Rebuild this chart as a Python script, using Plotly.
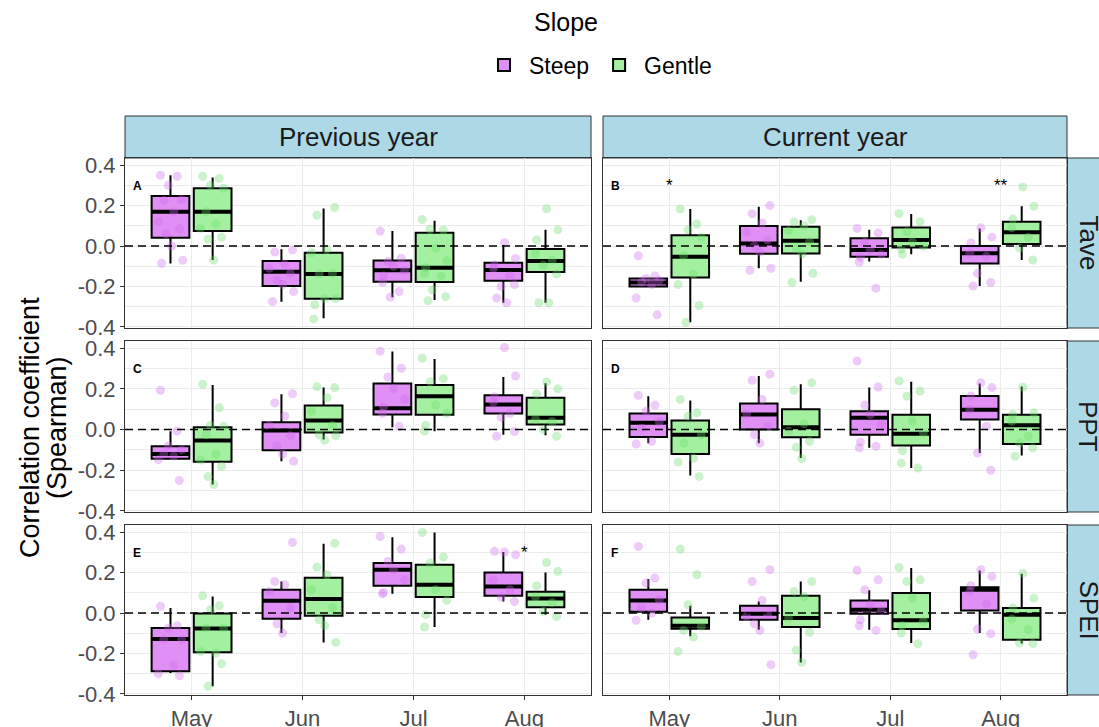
import plotly.graph_objects as go

# ---------------------------------------------------------------------------
# Categories
# ---------------------------------------------------------------------------
MONTHS = ["May", "Jun", "Jul", "Aug"]
SLOPES = ["Steep", "Gentle"]
PERIODS = ["Previous year", "Current year"]
VARIABLES = ["Tave", "PPT", "SPEI"]
PANEL_TAGS = ["A", "B", "C", "D", "E", "F"]  # row-major: (Tave, prev), (Tave, cur), ...

Y_TICKS = [-0.4, -0.2, 0.0, 0.2, 0.4]
Y_TICK_TEXT = ["-0.4", "-0.2", "0.0", "0.2", "0.4"]
Y_MINOR = [-0.3, -0.1, 0.1, 0.3]

# ---------------------------------------------------------------------------
# Box statistics per panel (rows A..F), columns = May, Jun, Jul, Aug
# ---------------------------------------------------------------------------
STEEP_LO = [
    [-0.086, -0.275, -0.253, -0.280],
    [-0.205, -0.110, -0.077, -0.198],
    [-0.145, -0.156, 0.011, -0.025],
    [-0.067, -0.067, -0.090, -0.115],
    [-0.296, -0.099, 0.095, 0.057],
    [-0.033, -0.082, -0.082, -0.099],
]
STEEP_Q1 = [
    [0.041, -0.198, -0.176, -0.171],
    [-0.200, -0.038, -0.053, -0.086],
    [-0.143, -0.102, 0.074, 0.079],
    [-0.036, 0.000, -0.025, 0.049],
    [-0.288, -0.028, 0.135, 0.085],
    [0.006, -0.033, -0.003, 0.013],
]
STEEP_MED = [
    [0.169, -0.127, -0.120, -0.118],
    [-0.180, 0.013, -0.020, -0.036],
    [-0.120, -0.005, 0.105, 0.123],
    [0.033, 0.074, 0.058, 0.097],
    [-0.128, 0.061, 0.214, 0.131],
    [0.062, -0.003, 0.016, 0.115],
]
STEEP_Q3 = [
    [0.247, -0.074, -0.072, -0.082],
    [-0.160, 0.099, 0.038, 0.000],
    [-0.082, 0.036, 0.226, 0.168],
    [0.079, 0.128, 0.090, 0.165],
    [-0.074, 0.115, 0.247, 0.200],
    [0.115, 0.036, 0.062, 0.128],
]
STEEP_HI = [
    [0.350, -0.016, 0.074, 0.005],
    [-0.155, 0.194, 0.080, 0.087],
    [-0.008, 0.173, 0.384, 0.258],
    [0.163, 0.263, 0.206, 0.226],
    [0.025, 0.156, 0.375, 0.301],
    [0.168, 0.057, 0.112, 0.210],
]

GENTLE_LO = [
    [-0.069, -0.357, -0.267, -0.280],
    [-0.377, -0.176, -0.040, -0.069],
    [-0.270, -0.049, -0.008, -0.028],
    [-0.226, -0.140, -0.189, -0.128],
    [-0.362, -0.145, -0.069, -0.008],
    [-0.115, -0.244, -0.148, -0.151],
]
GENTLE_Q1 = [
    [0.074, -0.260, -0.178, -0.128],
    [-0.155, -0.037, -0.007, 0.010],
    [-0.158, -0.015, 0.073, 0.025],
    [-0.120, -0.038, -0.078, -0.071],
    [-0.194, -0.013, 0.079, 0.028],
    [-0.078, -0.069, -0.079, -0.132],
]
GENTLE_MED = [
    [0.169, -0.138, -0.107, -0.074],
    [-0.053, 0.026, 0.030, 0.068],
    [-0.054, 0.044, 0.163, 0.058],
    [-0.025, 0.011, -0.021, 0.021],
    [-0.076, 0.069, 0.140, 0.072],
    [-0.063, -0.025, -0.036, -0.008],
]
GENTLE_Q3 = [
    [0.285, -0.033, 0.066, -0.015],
    [0.053, 0.095, 0.092, 0.120],
    [0.011, 0.118, 0.219, 0.156],
    [0.044, 0.100, 0.073, 0.073],
    [-0.002, 0.174, 0.238, 0.105],
    [-0.022, 0.085, 0.099, 0.025],
]
GENTLE_HI = [
    [0.339, 0.186, 0.125, 0.080],
    [0.183, 0.128, 0.158, 0.197],
    [0.219, 0.206, 0.346, 0.227],
    [0.143, 0.222, 0.235, 0.212],
    [0.082, 0.342, 0.398, 0.200],
    [0.036, 0.156, 0.222, 0.194],
]

# ---------------------------------------------------------------------------
# Individual correlation coefficients (per panel, per month)
# ---------------------------------------------------------------------------
STEEP_PTS = [
    # A
    [[0.350, 0.345, 0.300, 0.230, 0.225, 0.170, 0.120, 0.085, 0.060, 0.000, -0.070, -0.085],
     [-0.020, -0.030, -0.090, -0.110, -0.135, -0.170, -0.190, -0.225, -0.275],
     [0.074, -0.060, -0.077, -0.100, -0.120, -0.148, -0.180, -0.225, -0.253],
     [0.016, -0.061, -0.094, -0.110, -0.148, -0.200, -0.190, -0.257, -0.280]],
    # B
    [[-0.048, -0.148, -0.160, -0.170, -0.178, -0.190, -0.257, -0.340],
     [0.200, 0.160, 0.114, 0.070, 0.030, 0.000, -0.030, -0.110, -0.120],
     [0.087, 0.065, 0.020, -0.020, -0.040, -0.055, -0.080, -0.208],
     [0.090, 0.044, 0.015, -0.036, -0.050, -0.135, -0.180, -0.198]],
    # C
    [[0.193, -0.008, -0.080, -0.100, -0.120, -0.130, -0.148, -0.250],
     [0.176, 0.131, 0.066, 0.020, -0.030, -0.080, -0.120, -0.156],
     [0.385, 0.301, 0.258, 0.200, 0.150, 0.110, 0.080, 0.016],
     [0.403, 0.263, 0.160, 0.135, 0.080, 0.060, -0.010, -0.033]],
    # D
    [[0.168, 0.120, 0.090, 0.038, 0.007, -0.058, -0.071],
     [0.272, 0.242, 0.148, 0.077, 0.016, -0.025, -0.067],
     [0.337, 0.209, 0.120, 0.074, 0.028, -0.061, -0.090, -0.082],
     [0.230, 0.206, 0.165, 0.099, 0.016, -0.115, -0.200]],
    # E
    [[0.033, -0.063, -0.074, -0.132, -0.130, -0.260, -0.300, -0.310],
     [0.349, 0.156, 0.140, 0.107, 0.025, -0.053, -0.099],
     [0.378, 0.316, 0.255, 0.214, 0.164, 0.102, 0.095],
     [0.301, 0.288, 0.305, 0.164, 0.115, 0.079, 0.057]],
    # F
    [[0.329, 0.173, 0.148, 0.066, 0.025, 0.000, -0.036],
     [0.214, 0.156, 0.062, -0.017, -0.008, -0.053, -0.086, -0.255],
     [0.211, 0.164, 0.115, 0.041, 0.013, -0.033, -0.063, -0.086],
     [0.214, 0.181, 0.135, 0.107, 0.046, -0.079, -0.102, -0.206]],
]
GENTLE_PTS = [
    # A
    [[0.345, 0.334, 0.300, 0.285, 0.170, 0.109, 0.087, 0.043, 0.033, -0.069],
     [0.190, 0.152, -0.016, -0.033, -0.135, -0.138, -0.260, -0.260, -0.290, -0.360],
     [0.131, 0.079, 0.082, -0.011, -0.072, -0.107, -0.135, -0.150, -0.217, -0.250, -0.270],
     [0.184, 0.080, 0.030, -0.038, -0.070, -0.094, -0.138, -0.280, -0.280]],
    # B
    [[0.183, 0.109, 0.080, 0.044, -0.048, -0.138, -0.190, -0.294, -0.377],
     [0.130, 0.119, 0.100, 0.075, 0.020, -0.010, -0.040, -0.135, -0.180],
     [0.161, 0.120, 0.070, 0.020, 0.000, -0.040, -0.015],
     [0.292, 0.197, 0.133, 0.090, 0.044, -0.010, -0.069]],
    # C
    [[0.222, 0.107, 0.020, 0.015, -0.025, -0.120, -0.150, -0.181, -0.231, -0.270],
     [0.206, 0.210, 0.156, 0.090, 0.020, -0.025, -0.052, -0.030],
     [0.350, 0.250, 0.235, 0.120, 0.080, 0.020, -0.008],
     [0.234, 0.200, 0.175, 0.050, 0.040, 0.000, -0.033]],
    # D
    [[0.148, 0.082, 0.066, -0.025, -0.066, -0.140, -0.160, -0.230],
     [0.229, 0.193, 0.028, -0.008, -0.058, -0.087, -0.143],
     [0.239, 0.189, 0.164, 0.041, -0.017, -0.104, -0.165, -0.189],
     [0.209, 0.082, 0.074, 0.041, -0.033, -0.066, -0.090, -0.131]],
    # E
    [[0.085, 0.036, 0.016, -0.074, -0.074, -0.198, -0.190, -0.250, -0.362],
     [0.345, 0.227, 0.189, 0.115, 0.025, -0.033, -0.062, -0.145],
     [0.398, 0.277, 0.247, 0.115, 0.063, -0.008, -0.069],
     [0.250, 0.206, 0.135, 0.079, 0.052, 0.008, -0.017]],
    # F
    [[0.316, 0.189, 0.041, -0.066, -0.086, -0.119, -0.190],
     [0.156, 0.107, 0.082, -0.025, -0.095, -0.184, -0.244],
     [0.225, 0.164, 0.156, 0.074, -0.041, -0.063, -0.099, -0.152],
     [0.197, 0.074, 0.025, -0.030, -0.082, -0.148, -0.151]],
]

# Significance of the Steep vs Gentle difference (per panel, per month)
SIGNIF = [
    ["", "", "", ""],
    ["*", "", "", "**"],
    ["", "", "", ""],
    ["", "", "", ""],
    ["", "", "", "*"],
    ["", "", "", ""],
]

# ---------------------------------------------------------------------------
# Styling
# ---------------------------------------------------------------------------
W, H = 1099, 727
FONT = "Liberation Sans, Arial, Helvetica, sans-serif"
BOX_FILL = {"Steep": "#E08FF5", "Gentle": "#A3F0A0"}
POINT_COLOR = {"Steep": "rgba(205,105,235,0.35)", "Gentle": "rgba(105,220,105,0.35)"}
DODGE = {"Steep": -0.19, "Gentle": 0.19}
BOX_W = 0.34
JITTER = [-0.09, 0.06, -0.02, 0.10, -0.06, 0.03, -0.11, 0.08, -0.04, 0.01, 0.11, -0.08]
STRIP_FILL = "#ADD8E6"
BORDER = "#333333"
GRID = "#EBEBEB"
TICK_TXT = "#4D4D4D"

COL_X = [(125, 591), (603, 1067)]             # panel left/right in pixels
ROW_Y = [(158, 328), (341, 512), (525, 695)]  # panel top/bottom in pixels
STRIP_TOP = (116, 158)
STRIP_RIGHT = (1067, 1110)
X_RANGE = [0.4, 4.6]
Y_RANGE = [-0.405, 0.435]

STATS = {
    "Steep": (STEEP_LO, STEEP_Q1, STEEP_MED, STEEP_Q3, STEEP_HI, STEEP_PTS),
    "Gentle": (GENTLE_LO, GENTLE_Q1, GENTLE_MED, GENTLE_Q3, GENTLE_HI, GENTLE_PTS),
}


def fx(px):
    return px / W


def fy(px):
    return 1 - px / H


fig = go.Figure()
layout_axes = {}
shapes = []
annotations = []

for p in range(6):
    r, c = divmod(p, 2)
    n = p + 1
    xa = "x" if n == 1 else f"x{n}"
    ya = "y" if n == 1 else f"y{n}"

    for slope in SLOPES:
        lo, q1, med, q3, hi, pts = STATS[slope]
        pos = [m + 1 + DODGE[slope] for m in range(len(MONTHS))]

        fig.add_trace(go.Box(
            x=pos, lowerfence=lo[p], q1=q1[p], median=med[p], q3=q3[p], upperfence=hi[p],
            width=BOX_W, fillcolor=BOX_FILL[slope],
            line=dict(color="black", width=2), whiskerwidth=0, boxpoints=False,
            name=slope, legendgroup=slope, showlegend=(p == 0),
            xaxis=xa, yaxis=ya, hoverinfo="skip",
        ))

        # thicker median bar
        mx, my = [], []
        for k, m in enumerate(med[p]):
            mx += [pos[k] - BOX_W / 2, pos[k] + BOX_W / 2, None]
            my += [m, m, None]
        fig.add_trace(go.Scatter(
            x=mx, y=my, mode="lines", line=dict(color="black", width=4),
            showlegend=False, hoverinfo="skip", xaxis=xa, yaxis=ya,
        ))

        # jittered individual values
        px_, py_ = [], []
        for k, vals in enumerate(pts[p]):
            for i, v in enumerate(vals):
                px_.append(pos[k] + JITTER[(i + 3 * k) % len(JITTER)])
                py_.append(v)
        fig.add_trace(go.Scatter(
            x=px_, y=py_, mode="markers",
            marker=dict(size=9, color=POINT_COLOR[slope], line=dict(width=0)),
            showlegend=False, hoverinfo="skip", xaxis=xa, yaxis=ya,
        ))

    x0, x1 = COL_X[c]
    y0, y1 = ROW_Y[r]
    bottom = r == len(ROW_Y) - 1
    left = c == 0

    layout_axes["xaxis" if n == 1 else f"xaxis{n}"] = dict(
        domain=[fx(x0), fx(x1)], anchor=ya, range=X_RANGE, automargin=False,
        tickmode="array", tickvals=[1, 2, 3, 4], ticktext=MONTHS,
        showticklabels=bottom, ticks="outside" if bottom else "",
        ticklen=4, tickwidth=1, tickcolor=BORDER, ticklabelstandoff=0,
        tickfont=dict(family=FONT, size=22, color=TICK_TXT),
        showline=True, mirror=True, linecolor=BORDER, linewidth=1,
        showgrid=True, gridcolor=GRID, gridwidth=1.1, zeroline=False,
    )
    layout_axes["yaxis" if n == 1 else f"yaxis{n}"] = dict(
        domain=[fy(y1), fy(y0)], anchor=xa, range=Y_RANGE, automargin=False,
        tickmode="array", tickvals=Y_TICKS, ticktext=Y_TICK_TEXT,
        showticklabels=left, ticks="outside" if left else "",
        ticklen=4, tickwidth=1, tickcolor=BORDER,
        tickfont=dict(family=FONT, size=22, color=TICK_TXT),
        showline=True, mirror=True, linecolor=BORDER, linewidth=1,
        showgrid=True, gridcolor=GRID, gridwidth=1.1, zeroline=False,
        minor=dict(tickvals=Y_MINOR, showgrid=True, gridcolor=GRID, gridwidth=0.6, ticks=""),
    )

    # dashed reference line at zero
    shapes.append(dict(
        type="line", xref=f"{xa} domain", x0=0, x1=1, yref=ya, y0=0, y1=0,
        line=dict(color="black", width=1.5, dash="8px,5px"), layer="above",
    ))

    # panel tag
    annotations.append(dict(
        text=f"<b>{PANEL_TAGS[p]}</b>", xref=f"{xa} domain", x=6 / (x1 - x0),
        yref=ya, y=0.296, xanchor="left", yanchor="middle", showarrow=False,
        font=dict(family=FONT, size=12, color="black"),
    ))

    # significance stars
    for k, s in enumerate(SIGNIF[p]):
        if s:
            annotations.append(dict(
                text=s, xref=xa, x=k + 1, yref=ya, y=0.30,
                xanchor="center", yanchor="middle", showarrow=False,
                font=dict(family=FONT, size=17, color="black"),
            ))

# facet strips (top)
for c, label in enumerate(PERIODS):
    x0, x1 = COL_X[c]
    shapes.append(dict(
        type="rect", xref="paper", yref="paper",
        x0=fx(x0), x1=fx(x1), y0=fy(STRIP_TOP[1]), y1=fy(STRIP_TOP[0]),
        fillcolor=STRIP_FILL, line=dict(color=BORDER, width=1), layer="below",
    ))
    annotations.append(dict(
        text=label, xref="paper", yref="paper",
        x=fx((x0 + x1) / 2), y=fy(sum(STRIP_TOP) / 2),
        xanchor="center", yanchor="middle", showarrow=False,
        font=dict(family=FONT, size=26, color="#1A1A1A"),
    ))

# facet strips (right)
for r, label in enumerate(VARIABLES):
    y0, y1 = ROW_Y[r]
    shapes.append(dict(
        type="rect", xref="paper", yref="paper",
        x0=fx(STRIP_RIGHT[0]), x1=fx(STRIP_RIGHT[1]), y0=fy(y1), y1=fy(y0),
        fillcolor=STRIP_FILL, line=dict(color=BORDER, width=1), layer="below",
    ))
    annotations.append(dict(
        text=label, xref="paper", yref="paper",
        x=fx(sum(STRIP_RIGHT) / 2), y=fy((y0 + y1) / 2),
        xanchor="center", yanchor="middle", showarrow=False, textangle=90,
        font=dict(family=FONT, size=26, color="#1A1A1A"),
    ))

# y-axis title (two lines)
for text, xpx in (("Correlation coefficient", 30), ("(Spearman)", 57)):
    annotations.append(dict(
        text=text, xref="paper", yref="paper", x=fx(xpx), y=fy(428),
        xanchor="center", yanchor="middle", showarrow=False, textangle=-90,
        font=dict(family=FONT, size=27, color="black"),
    ))

# legend title
annotations.append(dict(
    text="Slope", xref="paper", yref="paper", x=fx(566), y=fy(22),
    xanchor="center", yanchor="middle", showarrow=False,
    font=dict(family=FONT, size=25, color="black"),
))

fig.update_layout(
    width=W, height=H, autosize=False,
    margin=dict(l=0, r=0, t=0, b=0),
    paper_bgcolor="white", plot_bgcolor="white",
    boxmode="overlay",
    shapes=shapes, annotations=annotations,
    legend=dict(
        orientation="h", x=fx(598), xanchor="center", y=fy(65), yanchor="middle",
        font=dict(family=FONT, size=23, color="black"),
        itemwidth=40, bgcolor="rgba(0,0,0,0)",
    ),
    **layout_axes,
)

fig.write_html("out.html")
